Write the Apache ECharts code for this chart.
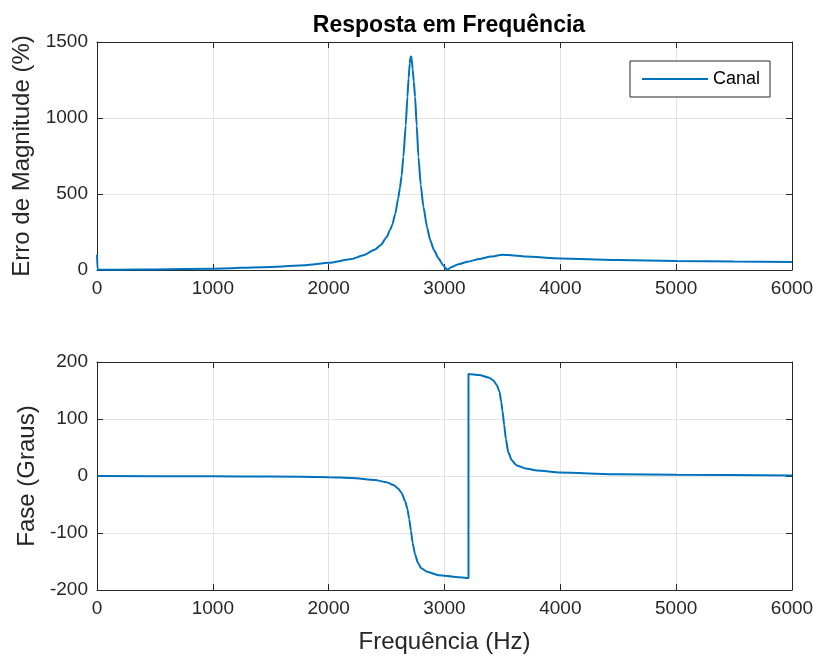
<!DOCTYPE html>
<html>
<head>
<meta charset="utf-8">
<title>Resposta em Frequência</title>
<script src="https://cdn.jsdelivr.net/npm/echarts@6/dist/echarts.min.js"></script>
<style>
  html, body { margin: 0; padding: 0; background: #fff; }
  #chart { width: 817px; height: 658px; }
</style>
</head>
<body>
<div id="chart"></div>
<script>
// magnitude error (%) vs frequency (Hz)
var magFreq = [0, 5, 200, 500, 1000, 1500, 1800, 2000, 2200, 2300, 2400, 2450, 2500, 2530, 2550, 2575, 2600, 2615, 2630, 2645, 2665, 2680, 2690, 2700, 2705, 2711, 2717, 2725, 2735, 2746, 2760, 2775, 2795, 2818, 2850, 2876, 2910, 2948, 2990, 3022, 3060, 3120, 3200, 3300, 3400, 3500, 3550, 3700, 4000, 4500, 5000, 5500, 6000];
var magVals = [100, 2, 2, 4, 8, 20, 32, 47, 72, 97, 135, 165, 215, 263, 300, 370, 470, 540, 620, 745, 950, 1140, 1260, 1360, 1395, 1405, 1390, 1320, 1240, 1140, 950, 745, 560, 416, 280, 197, 130, 77, 30, 2, 18, 38, 55, 72, 88, 100, 98, 88, 76, 66, 60, 56, 53];

// phase (degrees) vs frequency (Hz)
var phaseFreq = [0, 1000, 1500, 2000, 2200, 2400, 2500, 2560, 2600, 2630, 2660, 2680, 2695, 2710, 2725, 2745, 2770, 2800, 2850, 2950, 3100, 3207, 3207, 3300, 3380, 3420, 3450, 3475, 3490, 3500, 3515, 3530, 3550, 3580, 3620, 3700, 3800, 4000, 4500, 5000, 6000];
var phaseVals = [0, -0.5, -1, -2, -3.5, -7, -11, -16, -22, -30, -44, -58, -75, -96, -117, -137, -152, -162, -168, -174, -177, -179, 179, 177, 173, 168, 160, 148, 130, 115, 90, 65, 42, 28, 19, 13, 9.5, 6, 3, 2, 1];

var magData = magFreq.map(function (f, i) { return [f, magVals[i]]; });
var phaseData = phaseFreq.map(function (f, i) { return [f, phaseVals[i]]; });

var font = 'Liberation Sans, Arial, Helvetica, sans-serif';
var axisColor = '#262626';
var gridColor = '#e3e3e3';

function plain(v) { return String(v); }

function xAx(grid, pos, main, name) {
  return {
    type: 'value', gridIndex: grid, position: pos,
    min: 0, max: 6000, interval: 1000,
    name: name || '', nameLocation: 'middle', nameGap: 40,
    nameTextStyle: { fontFamily: font, fontSize: 24, color: axisColor },
    axisLine: { show: true, onZero: false, lineStyle: { color: axisColor, width: 1 } },
    axisTick: { show: true, inside: true, length: 6, lineStyle: { color: axisColor } },
    axisLabel: { show: main, formatter: plain, fontFamily: font, fontSize: 19, color: axisColor, margin: 9 },
    splitLine: { show: main, lineStyle: { color: gridColor, width: 1 } }
  };
}

function yAx(grid, pos, main, min, max, step, name, gap) {
  return {
    type: 'value', gridIndex: grid, position: pos,
    min: min, max: max, interval: step,
    name: name || '', nameLocation: 'middle', nameGap: gap || 0,
    nameTextStyle: { fontFamily: font, fontSize: 24, color: axisColor },
    axisLine: { show: true, onZero: false, lineStyle: { color: axisColor, width: 1 } },
    axisTick: { show: true, inside: true, length: 6, lineStyle: { color: axisColor } },
    axisLabel: { show: main, formatter: plain, fontFamily: font, fontSize: 19, color: axisColor, margin: 9 },
    splitLine: { show: main, lineStyle: { color: gridColor, width: 1 } }
  };
}

var chart = echarts.init(document.getElementById('chart'));
chart.setOption({
  animation: false,
  backgroundColor: '#fff',
  title: {
    text: 'Resposta em Frequência',
    left: 444, top: 9, textAlign: 'center',
    textStyle: { fontFamily: font, fontSize: 23, fontWeight: 'bold', color: '#000' }
  },
  legend: {
    data: [{ name: 'Canal', icon: 'rect' }],
    left: 630, top: 61,
    itemWidth: 66, itemHeight: 2, itemGap: 5,
    padding: [9, 10, 9, 12],
    borderColor: axisColor, borderWidth: 1,
    backgroundColor: '#fff',
    textStyle: { fontFamily: font, fontSize: 18, color: '#000' }
  },
  grid: [
    { left: 97, right: 25, top: 42, height: 228 },
    { left: 97, right: 25, top: 362, height: 228 }
  ],
  xAxis: [
    xAx(0, 'bottom', true),
    xAx(0, 'top', false),
    xAx(1, 'bottom', true, 'Frequência (Hz)'),
    xAx(1, 'top', false)
  ],
  yAxis: [
    yAx(0, 'left', true, 0, 1500, 500, 'Erro de Magnitude (%)', 60),
    yAx(0, 'right', false, 0, 1500, 500),
    yAx(1, 'left', true, -200, 200, 100, 'Fase (Graus)', 57),
    yAx(1, 'right', false, -200, 200, 100)
  ],
  series: [
    {
      name: 'Canal', type: 'line', xAxisIndex: 0, yAxisIndex: 0,
      data: magData, showSymbol: false, smooth: 0.2, smoothMonotone: 'x',
      lineStyle: { color: '#0072BD', width: 2 }, itemStyle: { color: '#0072BD' }
    },
    {
      name: 'Fase', type: 'line', xAxisIndex: 2, yAxisIndex: 2,
      data: phaseData, showSymbol: false, smooth: 0.2, smoothMonotone: 'x',
      lineStyle: { color: '#0072BD', width: 2 }, itemStyle: { color: '#0072BD' }
    }
  ]
});
</script>
</body>
</html>
